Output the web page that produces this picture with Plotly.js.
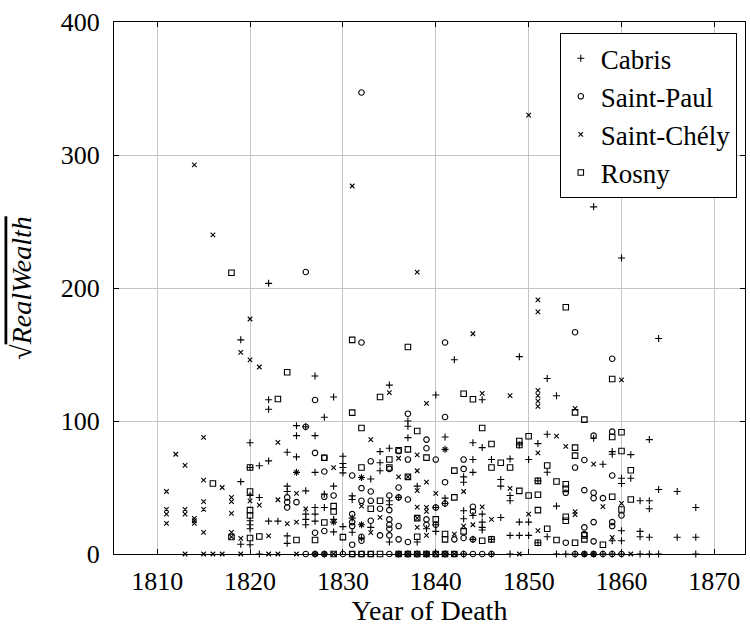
<!DOCTYPE html>
<html><head><meta charset="utf-8">
<script src="https://cdn.plot.ly/plotly-3.0.1.min.js"></script>
<style>body{margin:0;background:#fff}</style>
</head><body><div id="chart" style="width:750px;height:626px"></div>
<script>
// Cabris
const cabrisYear = [1822,1819,1827,1842,1849,1852,1857,1860,1864,1820,1820,1822,1822,1829,1828,1835,1837,1825,1826,1825,1827,1824,1825,1821,1822,1830,1830,1837,1837,1834,1835,1834,1840,1845,1853,1841,1841,1844,1845,1844,1846,1848,1849,1850,1851,1852,1857,1863,1859,1859,1861,1858,1819,1819,1820,1820,1820,1820,1820,1825,1827,1830,1830,1832,1833,1834,1824,1824,1826,1826,1826,1826,1827,1827,1828,1828,1829,1829,1831,1831,1835,1835,1836,1821,1822,1823,1827,1829,1831,1832,1824,1824,1829,1830,1831,1832,1833,1835,1844,1847,1847,1843,1843,1838,1841,1841,1848,1848,1851,1852,1840,1843,1843,1844,1845,1845,1845,1845,1847,1849,1850,1853,1839,1840,1840,1838,1846,1844,1848,1849,1850,1851,1852,1860,1861,1860,1864,1866,1862,1863,1863,1868,1859,1860,1860,1862,1862,1863,1866,1868,
  1821,1827,1828,1836,1837,1838,1839,1841,1843,1846,1848,1853,1854,1855,1856,1857,1858,1859,1860,1862,1863,1864,1868];
const cabrisWealth = [203.5,161,133.8,146,148.4,132,261,222.6,162,83.7,65,116,108.8,118,102.8,127,100,96.5,95.7,89,89,76.5,73,66.4,70,73.5,68,96,87.5,77,79.5,68.6,119.5,116,119,88,78.7,83.7,80,71,71,71.5,82,71,83,90,87,86,77,75,74.7,67.5,54.4,7.3,44,25,22,19,7,61.4,61.4,65,61,57.5,56.4,62.6,51,47,47.5,30,26,22,35,30,45,35,51,26,43.7,41,40,37,42.6,42.5,24.7,24.7,24.7,24,27,22,13.6,8,16.6,20.6,16.3,12,20,9,61.4,56,51,58,54,51,42,38,44,40,55,61.5,35,32.5,26.5,29,30,24,20,18,27.5,24,24,36,19,22,17,9,11,11,14,14,14,8.5,13,57,57,53,48.5,47,40,40,34,35,10,17.5,10,17,13,12.6,12.6,12.6,
  0,0,0,0,0,0,0,0,0,0,0,0,0,0,0,0,0,0,0,0,0,0,0];

// Saint-Paul
const paulYear = [1832,1826,1832,1841,1855,1859,1827,1837,1826,1827,1828,1836,1837,1833,1841,1839,1839,1840,1843,1855,1857,1859,1856,1828,1831,1835,1832,1833,1836,1836,1837,1824,1824,1824,1825,1828,1829,1832,1833,1834,1835,1835,1831,1831,1831,1833,1835,1835,1835,1836,1827,1828,1831,1832,1832,1834,1835,1836,1837,1843,1841,1841,1854,1840,1844,1844,1839,1839,1840,1842,1843,1844,1854,1859,1856,1857,1857,1858,1860,1857,1859,1859,1856,1856,1857,
  1826,1827,1828,1830,1831,1832,1833,1835,1836,1837,1838,1839,1840,1841,1842,1843,1844,1845,1846,1855,1856,1857,1858,1859,1860];
const paulWealth = [347,212,159,159,166.7,146.8,115.8,105.5,95.7,76,72.4,77.4,71,69.7,103,86,79.5,71,71,65,89,92,70.7,62,59,64,49.5,47,50,42.6,41,42.6,39,35,39,43,44,40,40,34,44,33,30,24,21,25,26,22,19,21,16,17.3,7,13,10,14,14,11,9,64,54,38,46,35,35.5,32,26,22,22,11,12,11,8.5,59,48,46,42,42,29,24,24,21,20,15,9.5,
  0,0,0,0,0,0,0,0,0,0,0,0,0,0,0,0,0,0,0,0,0,0,0,0,0];

// Saint-Chély
const chelyYear = [1814,1816,1820,1819,1820,1821,1850,1831,1838,1851,1851,1844,1860,1815,1812,1813,1835,1823,1829,1833,1836,1839,1845,1848,1851,1851,1851,1851,1855,1838,1841,1851,1853,1854,1857,1815,1817,1811,1811,1811,1811,1813,1813,1814,1814,1814,1815,1815,1815,1818,1818,1818,1818,1818,1819,1820,1825,1832,1836,1837,1821,1823,1825,1826,1832,1822,1824,1825,1829,1832,1834,1833,1838,1839,1838,1843,1840,1848,1838,1839,1839,1845,1844,1846,1850,1855,1838,1838,1839,1842,1843,1851,1858,1860,1855,1859,
  1813,1815,1816,1817,1819,1822,1823,1825,1827,1828,1829,1836,1837,1838,1839,1840,1841,1842,1849,1856,1857,1861];
const chelyWealth = [292.5,240,176.7,151.6,146,140.6,330,276.7,212,191,182,165.6,131,87.7,75,66.7,121.3,84,65,86,72,113.3,120.8,119,123,119,115,111,109.5,74.5,78.7,76,88.7,81,67.5,55.6,50,47,33.6,29.9,23.1,33.6,29.9,26.8,25,23.1,39.3,33.6,16.3,42.6,39.3,30.6,16.3,12.8,11.8,40,61.4,57.5,58,58,36.8,40.8,45.6,34,36,13.6,22.8,24,24,22,27.5,16,62.6,54,47.7,47,45.6,49.3,35.2,35,32,35.5,22,26,30,29.6,27,20,14,15,21,17.5,35.6,38,31.8,12.5,
  0,0,0,0,0,0,0,0,0,0,0,0,0,0,0,0,0,0,0,0,0,0];

// Rosny
const rosnyYear = [1818,1824,1831,1837,1854,1859,1860,1820,1823,1834,1831,1828,1836,1837,1832,1835,1835,1832,1843,1844,1855,1845,1838,1839,1846,1847,1848,1849,1849,1850,1855,1852,1856,1859,1860,1855,1860,1861,1816,1818,1820,1820,1820,1820,1837,1829,1829,1833,1834,1828,1821,1825,1827,1830,1842,1846,1842,1849,1850,1851,1851,1853,1854,1854,1851,1854,1854,1838,1840,1838,1841,1841,1843,1845,1846,1851,1852,1853,1855,1859,1861,1860,1856,1856,1858,
  1829,1831,1832,1833,1834,1836,1837,1838,1839,1840,1841,1842];
const rosnyWealth = [211.5,136.6,161,155.6,185.5,131.6,277,65,116.5,118,106.3,72.4,78,78.7,94.7,71,65,65,120.5,116.3,106.5,94.7,92.5,72.5,82.7,68.6,65,85,82,88.5,80,66.5,101,88,91.5,74,77.5,63,53,12.8,47,33,29,12,58,36,32,34,40,23.7,13.2,10.5,10.5,12.7,62.7,65,42.6,47.5,44,44.5,55,54.5,52.5,49,33,28,25,27,26,13,15,11,17,10,11,8.5,19,10.5,8.5,43,41,33.5,14,11,7,
  0,0,0,0,0,0,0,0,0,0,0,0];

const seriesNames = ['Cabris','Saint-Paul','Saint-Chély','Rosny'];
const xTicks = [1810,1820,1830,1840,1850,1860,1870];
const yTicks = [0,100,200,300,400];

const FONT = 'Liberation Serif, serif';
function mk(name, x, y, symbol, size) {
  return {type:'scatter', mode:'markers', name:name, x:x, y:y, cliponaxis:false,
    marker:{symbol:symbol, size:size, color:'black', line:{color:'black', width:1.1}}};
}
const data = [
  mk(seriesNames[0], cabrisYear, cabrisWealth, 'cross-thin-open', 5),
  mk(seriesNames[1], paulYear, paulWealth, 'circle-open', 5.5),
  mk(seriesNames[2], chelyYear, chelyWealth, 'x-thin-open', 4.5),
  mk(seriesNames[3], rosnyYear, rosnyWealth, 'square-open', 5.5)
];
const axisCommon = {showline:true, linecolor:'black', linewidth:1, mirror:'ticks', ticks:'inside', ticklen:5, tickcolor:'black', tickwidth:1,
  showgrid:true, gridcolor:'#c4c4c4', gridwidth:1, zeroline:false, tickfont:{family:FONT, size:26, color:'black'}};
const layout = {
  width:750, height:626, margin:{l:114, r:5, t:22, b:72},
  paper_bgcolor:'white', plot_bgcolor:'white', showlegend:true, hovermode:false,
  xaxis:Object.assign({}, axisCommon, {range:[1805.35,1873.3], tickvals:xTicks, ticktext:xTicks.map(String), ticklabelstandoff:4,
    title:{text:'Year of Death', font:{family:FONT, size:28, color:'black'}}}),
  yaxis:Object.assign({}, axisCommon, {range:[0,400], tickvals:yTicks, ticktext:yTicks.map(String), ticklabelstandoff:8,
    title:{text:'√<i><span style="text-decoration:overline">RealWealth</span></i>', standoff:20, font:{family:FONT, size:28, color:'black'}}}),
  legend:{x:0.987, y:0.979, xanchor:'right', yanchor:'top', bgcolor:'white', bordercolor:'black', borderwidth:1,
    font:{family:FONT, size:27, color:'black'}, itemwidth:30, tracegroupgap:0}
};
Plotly.newPlot('chart', data, layout, {displayModeBar:false, staticPlot:true});
</script></body></html>
